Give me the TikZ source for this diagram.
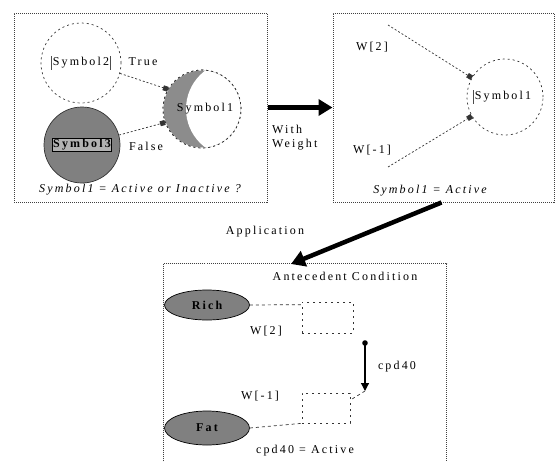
\documentclass[tikz,border=0pt]{standalone}
\usepackage{fontspec}
\setmainfont{Liberation Serif}[LetterSpace=18]
\usetikzlibrary{arrows.meta,shapes.geometric}
\begin{document}
\begin{tikzpicture}[x=1pt,y=-1pt,
  font=\fontsize{12}{14}\selectfont,
  panel/.style={draw=black!75, densely dotted, line width=1pt, inner sep=0pt},
  symcirc/.style={circle, draw=black!80, dash pattern=on 2pt off 3pt, line width=0.7pt, inner sep=0pt},
  graycirc/.style={circle, draw=black!80, fill=black!50, line width=0.7pt, inner sep=0pt},
  grayell/.style={ellipse, draw=black, fill=black!50, line width=0.7pt, inner sep=0pt},
  gate/.style={draw=black!80, dash pattern=on 2pt off 4pt, line width=0.7pt, inner sep=0pt},
  link/.style={draw=black!80, dash pattern=on 2pt off 2pt, line width=0.7pt, -{Square[length=5pt,width=5pt]}},
  plainlink/.style={draw=black!80, dash pattern=on 3pt off 3pt, line width=0.7pt},
  bigarrow/.style={line width=4.5pt, -{Triangle[length=14pt,width=16pt]}},
  lbl/.style={inner sep=1pt}
]
\useasboundingbox (0,0) rectangle (557,461);

% ---------- panel 1 ----------
\node[panel, minimum width=253pt, minimum height=189pt] (b1) at (140.5,107.5) {};
\node[symcirc, minimum size=80pt] (c2) at (81,63) {};
\node[symcirc, minimum size=78pt] (c1) at (202,109) {};
\begin{scope}
  \clip (c1.center) circle (38.5pt);
  \fill[black!45] (150,60) rectangle (250,160);
  \fill[white] (234,109) circle (48pt);
\end{scope}
\node[symcirc, minimum size=78pt] at (c1.center) {};
\node[graycirc, minimum size=76pt] (c3) at (82,145) {};
\node[lbl] (s2) at (81,63) {Symbol2};
\draw[black!70, line width=0.6pt] (s2.north west) -- (s2.south west) (s2.north east) -- (s2.south east);
\node[lbl] (s1) at (205,109) {Symbol1};
\node[lbl, draw=black, line width=1pt, fill=black!30, font=\fontsize{12}{14}\selectfont\bfseries] (s3) at (82,145) {Symbol3};
\node[lbl] (tru) at (143,62) {True};
\node[lbl] (fal) at (146,146) {False};
\draw[link] (c2.-15) -- (c1.150);
\draw[link] (c3.15) -- (c1.200);
\node[lbl, font=\fontsize{12}{14}\selectfont\itshape] (q1) at (140,190) {Symbol1 = Active or Inactive ?};

% ---------- panel 2 ----------
\node[panel, minimum width=221pt, minimum height=189pt] (b2) at (443.5,107.5) {};
\node[symcirc, minimum size=76pt] (c4) at (505,97) {};
\node[lbl] (s4) at (503,97) {Symbol1};
\draw[black!70, line width=0.6pt] (s4.north west) -- (s4.south west);
\node[lbl] (w2) at (372,47) {W[2]};
\node[lbl] (wm1) at (372,150) {W[-1]};
\coordinate (p1) at (388,25);
\coordinate (p2) at (388,167);
\draw[link] (p1) -- (c4.150);
\draw[link] (p2) -- (c4.210);
\node[lbl, font=\fontsize{12}{14}\selectfont\itshape] (q2) at (430,191) {Symbol1 = Active};

% ---------- connectors between panels ----------
\draw[bigarrow] (b1.east) -- (b2.west);
\node[lbl, align=left, anchor=north west] (ww) at (271,124) {With\\Weight};

% ---------- panel 3 ----------
\node[panel, minimum width=283pt, minimum height=210pt, anchor=north west] (b3) at (163,263) {};
\draw[bigarrow] ([xshift=-2pt]b2.south) -- ([xshift=-14pt,yshift=-1pt]b3.north);
\node[lbl] (app) at (265,232) {Application};
\node[lbl] (ac) at (345,276) {Antecedent Condition};
\node[grayell, minimum width=85pt, minimum height=30pt] (rich) at (207,305) {\bfseries Rich};
\node[grayell, minimum width=85pt, minimum height=34pt] (fat) at (207,428) {\bfseries Fat};
\node[gate, minimum width=51pt, minimum height=31pt] (a1) at (327.5,317.5) {};
\node[gate, minimum width=48pt, minimum height=30pt] (a2) at (326,408) {};
\draw[plainlink] (rich.east) -- ([yshift=-3pt]a1.north west);
\draw[plainlink] (fat.east) -- (a2.south west);
\node[lbl] (w2b) at (266,331) {W[2]};
\node[lbl] (wm1b) at (260,396) {W[-1]};
\coordinate (k1) at (365,343);
\coordinate (k2) at (365,391);
\fill[black] (k1) circle (2.8pt);
\draw[line width=1.2pt, -{Triangle[length=8pt,width=8pt]}] (k1) -- (k2);
\draw[plainlink] (k2) -- (a2.18);
\node[lbl] (cpd) at (397,367) {cpd40};
\node[lbl] (q3) at (305,451) {cpd40 = Active};
\end{tikzpicture}
\end{document}
